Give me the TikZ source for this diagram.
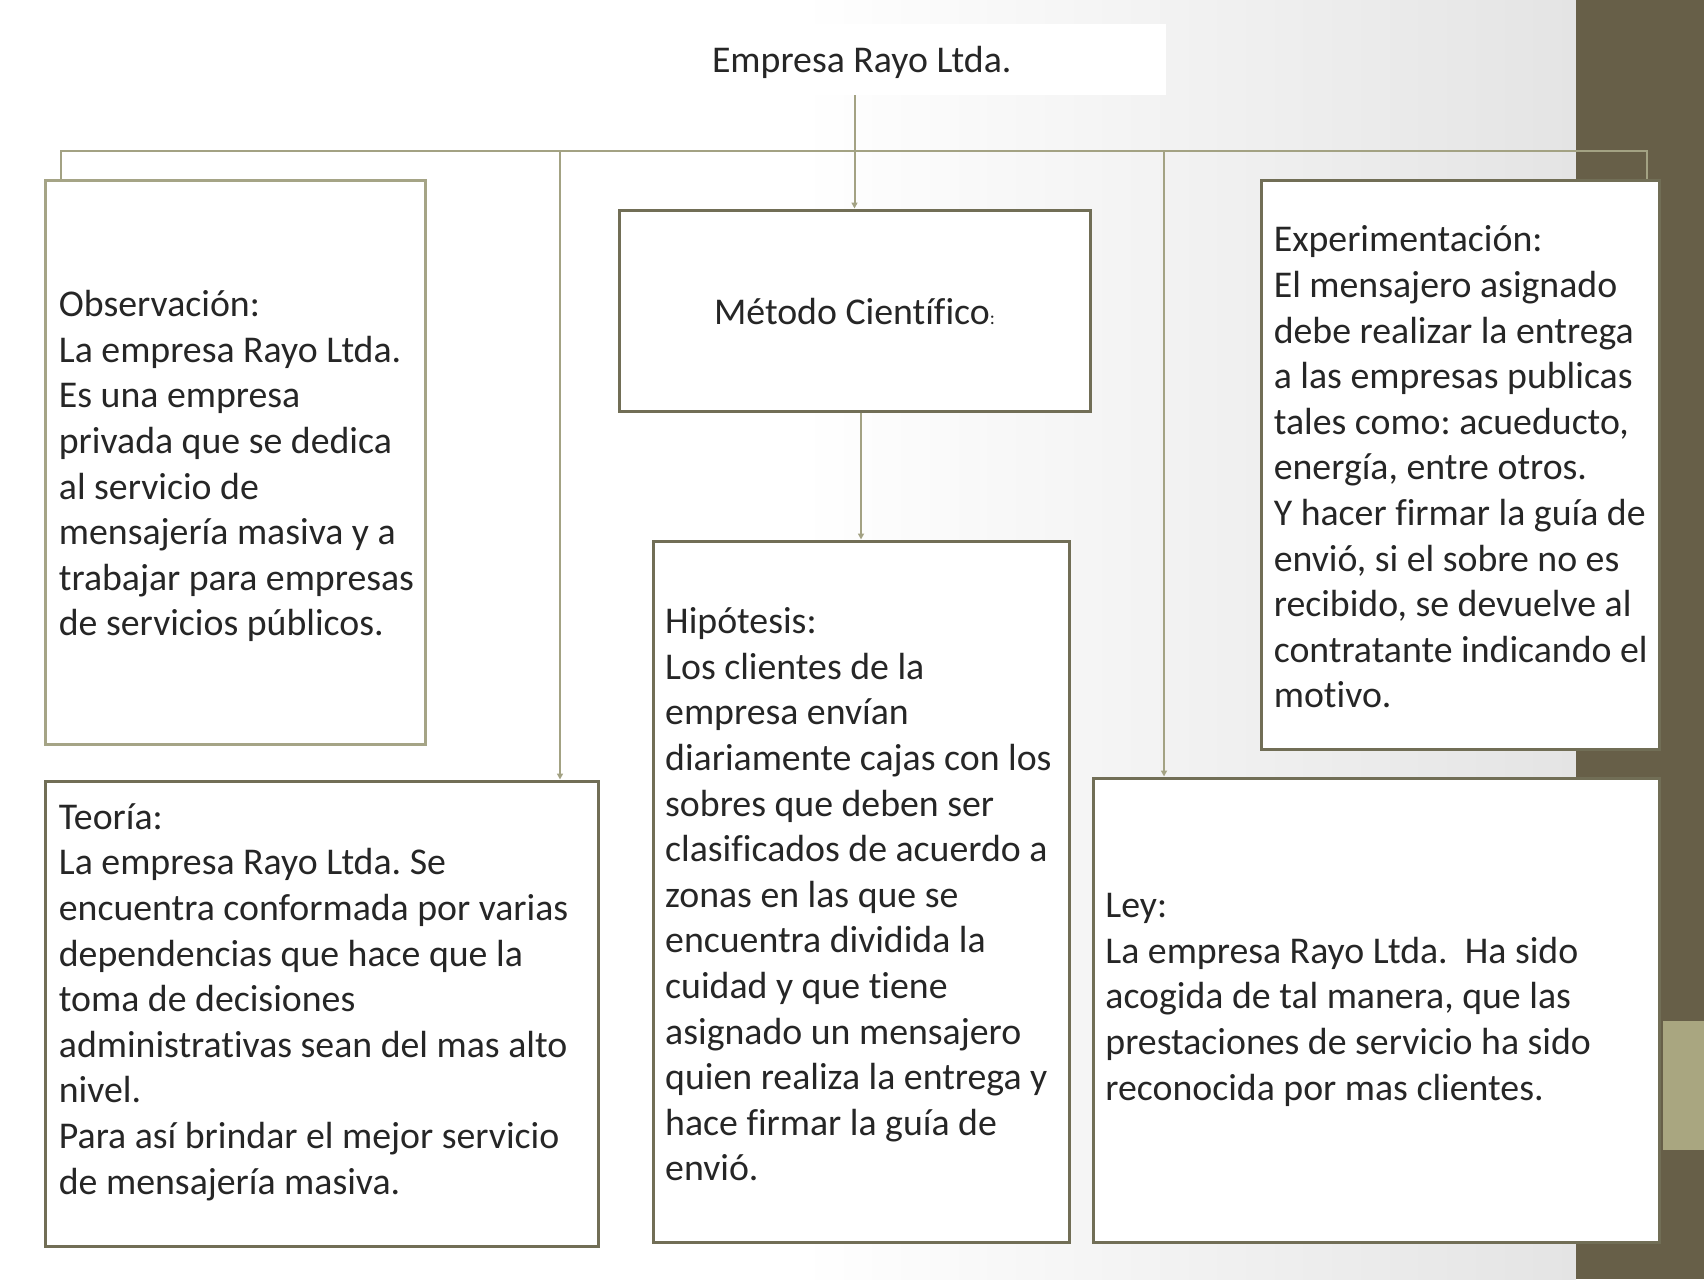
\documentclass[tikz,border=0pt]{standalone}
\usepackage{fontspec}
\setmainfont{Carlito}[Ligatures=NoCommon]
\usetikzlibrary{arrows.meta,shadows}
\definecolor{conncol}{HTML}{A3A283}
\definecolor{boxdark}{HTML}{716E56}
\definecolor{boxlight}{HTML}{A5A486}
\definecolor{barcol}{HTML}{675F48}
\definecolor{barlight}{HTML}{A9A680}
\definecolor{txtc}{HTML}{262626}
\definecolor{bggray}{HTML}{E4E4E4}
\frenchspacing
\begin{document}
\frenchspacing
\begin{tikzpicture}[x=1pt,y=-1pt,
  bodyfont/.style={font=\fontsize{37.8pt}{45.6pt}\selectfont\frenchspacing},
  boxd/.style={draw=boxdark, line width=3pt, fill=white, inner sep=0pt,
    drop shadow={shadow xshift=1.5pt,shadow yshift=-1.5pt,fill=boxdark,opacity=0.55}},
  boxl/.style={draw=boxlight, line width=3pt, fill=white, inner sep=0pt},
  txt/.style={bodyfont, text=txtc, align=left, inner sep=0pt, anchor=west},
  conn/.style={draw=conncol, line width=2pt},
  arr/.style={-{Triangle[length=6pt,width=6pt]}}
]
\useasboundingbox (0,0) rectangle (1704,1279);
% background
\fill[white] (0,0) rectangle (1704,1279);
\shade[left color=white, right color=bggray] (800,0) rectangle (1576,1279);
\fill[barcol] (1576,0) rectangle (1704,1279);
\fill[barlight] (1663,1021) rectangle (1704,1150);

% title
\node[fill=white, minimum width=476pt, minimum height=71pt, text width=432pt,
  inner xsep=22pt, inner ysep=0pt, align=flush left, bodyfont, text=txtc] (title) at (928,59.5)
  {\raisebox{-3.3pt}[\height][\depth]{Empresa Rayo Ltda.}};

% boxes
\node[boxl, minimum width=379.4pt, minimum height=564pt] (obs) at (235.3,462) {};
\node[boxd, minimum width=471pt, minimum height=201pt, bodyfont, text=txtc] (met) at (854.5,310.5)
  {\raisebox{-1pt}[\height][\depth]{Método Científico{\fontsize{19pt}{20pt}\selectfont:}}};
\node[boxd, minimum width=398pt, minimum height=569pt] (exp) at (1460,464.5) {};
\node[boxd, minimum width=552.4pt, minimum height=465pt] (teo) at (321.8,1013.5) {};
\node[boxd, minimum width=416pt, minimum height=701pt] (hip) at (861,891.5) {};
\node[boxd, minimum width=566pt, minimum height=464pt] (ley) at (1376,1010) {};

% connectors
\coordinate (bT) at (560,151);
\coordinate (bL) at (1164,151);
\draw[conn] ([xshift=16.4pt]obs.north west) -- ([xshift=16.4pt]obs.north west |- bT)
  -- ([xshift=-13.3pt]exp.north east |- bT) -- ([xshift=-13.3pt]exp.north east);
\draw[conn,arr] (bT) -- (bT |- teo.north);
\draw[conn,arr] (bL) -- (bL |- ley.north);
\draw[conn,arr] (title.south -| met.north) -- (met.north);
\draw[conn,arr] (met.south -| hip.north) -- (hip.north);

% texts
\node[txt] (obst) at (58.7,466.3) {Observación:\\La empresa Rayo Ltda.\\Es una empresa\\privada que se dedica\\al servicio de\\mensajería masiva y a\\trabajar para empresas\\de servicios públicos.};
\node[txt] (expt) at (1273.6,467) {Experimentación:\\El mensajero asignado\\debe realizar la entrega\\a las empresas publicas\\tales como: acueducto,\\energía, entre otros.\\Y hacer firmar la guía de\\envió, si el sobre no es\\recibido, se devuelve al\\contratante indicando el\\motivo.};
\node[txt] (teot) at (58.7,1002) {Teoría:\\La empresa Rayo Ltda. Se\\encuentra conformada por varias\\dependencias que hace que la\\toma de decisiones\\administrativas sean del mas alto\\nivel.\\Para así brindar el mejor servicio\\de mensajería masiva.};
\node[txt] (hipt) at (665,894.5) {Hipótesis:\\Los clientes de la\\empresa envían\\diariamente cajas con los\\sobres que deben ser\\clasificados de acuerdo a\\zonas en las que se\\encuentra dividida la\\cuidad y que tiene\\asignado un mensajero\\quien realiza la entrega y\\hace firmar la guía de\\envió.};
\node[txt] (leyt) at (1105.2,999.8) {Ley:\\La empresa Rayo Ltda.\ \ Ha sido\\acogida de tal manera, que las\\prestaciones de servicio ha sido\\reconocida por mas clientes.};
\end{tikzpicture}
\end{document}
